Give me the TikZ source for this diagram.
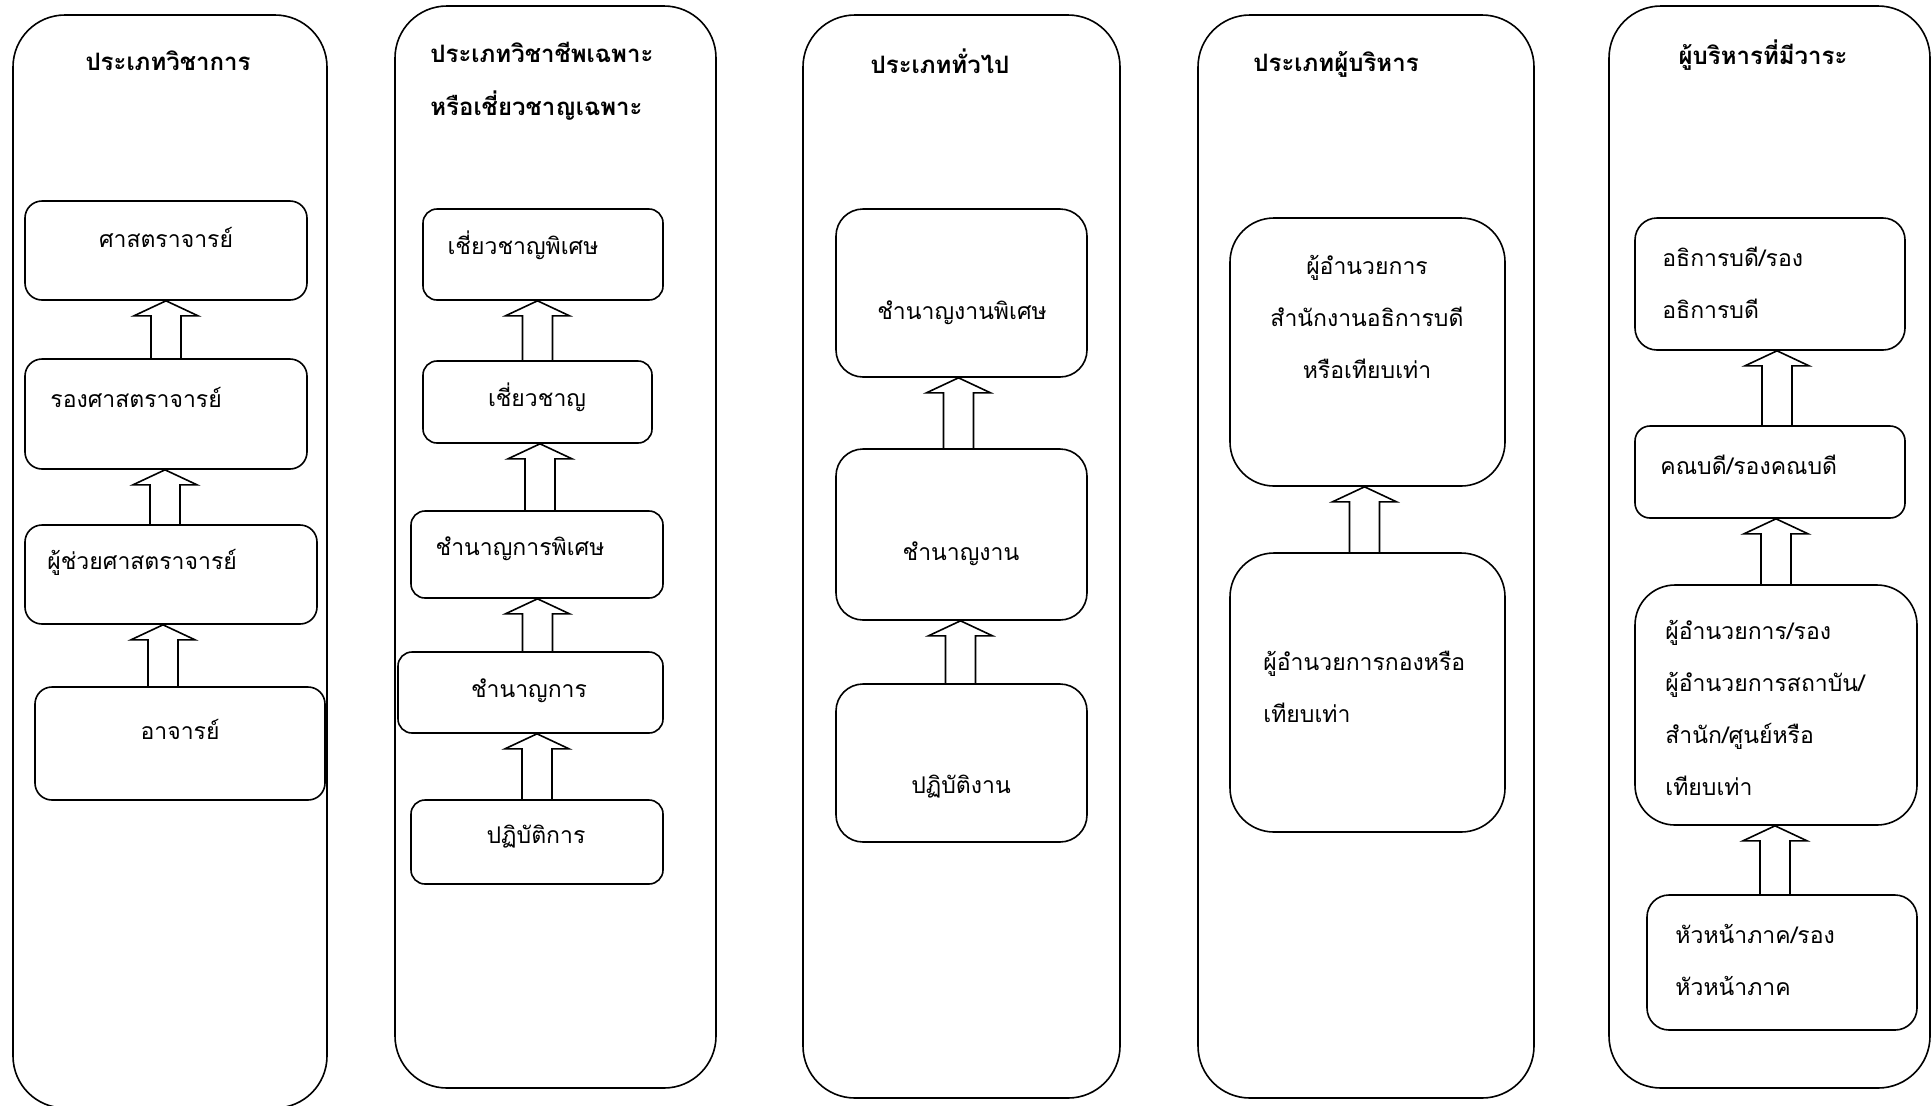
\documentclass[tikz,border=0pt]{standalone}
\usepackage{fontspec}
\newfontfamily\thaifont[Script=Thai]{Loma}
\usetikzlibrary{calc,fit}
\def\liftarrow[#1](#2)(#3)% Syntax: [x shift] (lower node) (upper node)
    { \draw[up] let \p1=($(#2.north)+(#1,0)$), \p2=(#3.south) in
      (\x1-7.5pt,\y1) -- (\x1-7.5pt,\y2-7.5pt) -- (\x1-16pt,\y2-7.5pt) -- (\x1,\y2)
      -- (\x1+16pt,\y2-7.5pt) -- (\x1+7.5pt,\y2-7.5pt) -- (\x1+7.5pt,\y1); }

\begin{document}
\begin{tikzpicture}
    [x=0.5pt, y=-0.5pt,
    col/.style={draw, line width=0.8pt, rounded corners=26pt},
    box/.style={draw, line width=0.8pt, rounded corners=#1, inner sep=0pt},
    box/.default=8pt,
    up/.style={line width=0.8pt},
    lbl/.style={font=\thaifont\fontsize{11.5}{26}\selectfont, inner sep=0pt},
    head/.style={font=\thaifont\bfseries\fontsize{12}{26.5}\selectfont, inner sep=0pt}]

    % columns
    \draw[col] (13,15) rectangle (327,1108);
    \draw[col] (395,6) rectangle (716,1088);
    \draw[col] (803,15) rectangle (1120,1098);
    \draw[col] (1198,15) rectangle (1534,1098);
    \draw[col] (1609,6) rectangle (1930,1088);

    % academic
    \node[head] (ha) at (168,61) {ประเภทวิชาการ};
    \node[box=8.5pt, fit={(25,201) (307,300)}] (a1) {};
    \node[box=8.5pt, fit={(25,359) (307,469)}] (a2) {};
    \node[box=8.5pt, fit={(25,525) (317,624)}] (a3) {};
    \node[box=8.5pt, fit={(35,687) (325,800)}] (a4) {};
    \node[lbl] (ta1) at (166,237) {ศาสตราจารย์};
    \node[lbl, anchor=west] (ta2) at (50,397) {รองศาสตราจารย์};
    \node[lbl, anchor=west] (ta3) at (47,562) {ผู้ช่วยศาสตราจารย์};
    \node[lbl] (ta4) at (180,729) {อาจารย์};
    \liftarrow[0](a2)(a1)
    \liftarrow[-6](a3)(a2)
    \liftarrow[-17](a4)(a3)

    % professional
    \node[head, anchor=west, align=left] (hb) at (430,81) {ประเภทวิชาชีพเฉพาะ\\หรือเชี่ยวชาญเฉพาะ};
    \node[box=7pt, fit={(423,209) (663,300)}] (b1) {};
    \node[box=7pt, fit={(423,361) (652,443)}] (b2) {};
    \node[box=7pt, fit={(411,511) (663,598)}] (b3) {};
    \node[box=7pt, fit={(398,652) (663,733)}] (b4) {};
    \node[box=7pt, fit={(411,800) (663,884)}] (b5) {};
    \node[lbl] (tb1) at (523,245) {เชี่ยวชาญพิเศษ};
    \node[lbl] (tb2) at (537,397) {เชี่ยวชาญ};
    \node[lbl] (tb3) at (520,549) {ชำนาญการพิเศษ};
    \node[lbl] (tb4) at (529,691) {ชำนาญการ};
    \node[lbl] (tb5) at (536,837) {ปฏิบัติการ};
    \liftarrow[0](b2)(b1)
    \liftarrow[3](b3)(b2)
    \liftarrow[7](b4)(b3)
    \liftarrow[0](b5)(b4)

    % general
    \node[head] (hc) at (940,61) {ประเภททั่วไป};
    \node[box=13.5pt, fit={(836,209) (1087,377)}] (c1) {};
    \node[box=13.5pt, fit={(836,449) (1087,620)}] (c2) {};
    \node[box=13.5pt, fit={(836,684) (1087,842)}] (c3) {};
    \node[lbl] (tc1) at (962,313) {ชำนาญงานพิเศษ};
    \node[lbl] (tc2) at (961,554) {ชำนาญงาน};
    \node[lbl] (tc3) at (961,787) {ปฏิบัติงาน};
    \liftarrow[-3](c2)(c1)
    \liftarrow[-1](c3)(c2)

    % executive
    \node[head] (hd) at (1336,64) {ประเภทผู้บริหาร};
    \node[box=22pt, fit={(1230,218) (1505,486)}] (d1) {};
    \node[box=22pt, fit={(1230,553) (1505,832)}] (d2) {};
    \node[lbl, align=center] (td1) at (1367,317) {ผู้อำนวยการ\\สำนักงานอธิการบดี\\หรือเทียบเท่า};
    \node[lbl, anchor=west, align=left] (td2) at (1263,687) {ผู้อำนวยการกองหรือ\\เทียบเท่า};
    \liftarrow[-3](d2)(d1)

    % term
    \node[head] (he) at (1763,55) {ผู้บริหารที่มีวาระ};
    \node[box=11pt, fit={(1635,218) (1905,350)}] (e1) {};
    \node[box=7.5pt, fit={(1635,426) (1905,518)}] (e2) {};
    \node[box=20pt, fit={(1635,585) (1917,825)}] (e3) {};
    \node[box=11pt, fit={(1647,895) (1917,1030)}] (e4) {};
    \node[lbl, anchor=west, align=left] (te1) at (1662,283) {อธิการบดี/รอง\\อธิการบดี};
    \node[lbl, anchor=west] (te2) at (1660,465) {คณบดี/รองคณบดี};
    \node[lbl, anchor=west, align=left] (te3) at (1665,708) {ผู้อำนวยการ/รอง\\ผู้อำนวยการสถาบัน/\\สำนัก/ศูนย์หรือ\\เทียบเท่า};
    \node[lbl, anchor=west, align=left] (te4) at (1675,960) {หัวหน้าภาค/รอง\\หัวหน้าภาค};
    \liftarrow[7](e2)(e1)
    \liftarrow[0](e3)(e2)
    \liftarrow[-7](e4)(e3)

    \pgfresetboundingbox
    \useasboundingbox (0,0) rectangle (1932,1105);
\end{tikzpicture}
\end{document}
